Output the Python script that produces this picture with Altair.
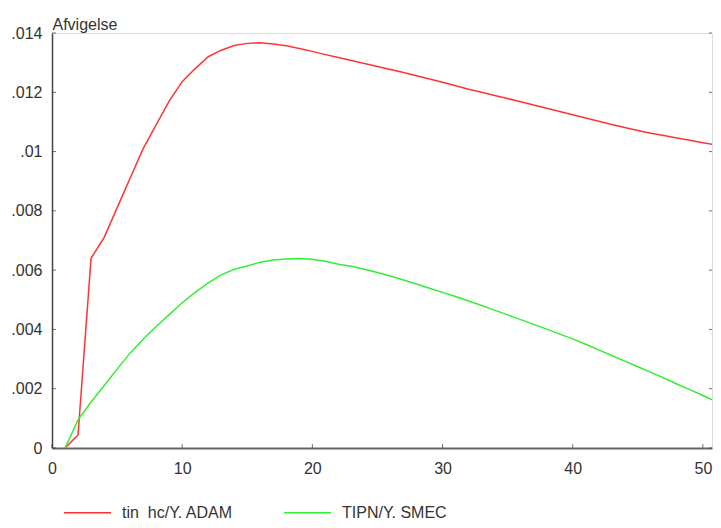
import altair as alt
import pandas as pd

years = list(range(1, 52))
red_vals = [0.0, 0.00044, 0.0064, 0.0071, 0.0081, 0.0091, 0.0101, 0.0109, 0.0117, 0.01236,
            0.0128, 0.0132, 0.01342, 0.01358, 0.01365, 0.01367, 0.01363, 0.01357, 0.01348, 0.01338,
            0.01327, 0.01317, 0.01307, 0.01297, 0.01287, 0.01277, 0.01267, 0.01256, 0.01245, 0.01234,
            0.01222, 0.0121, 0.012, 0.01189, 0.01179, 0.01168, 0.01157, 0.01146, 0.01135, 0.01124,
            0.01113, 0.01102, 0.01091, 0.01081, 0.01071, 0.01062, 0.01054, 0.01046, 0.01038, 0.0103,
            0.01022]
green_vals = [0.0, 0.00095, 0.00155, 0.0021, 0.00266, 0.0032, 0.00367, 0.0041, 0.0045, 0.0049,
              0.00525, 0.00557, 0.00584, 0.00603, 0.00614, 0.00627, 0.00634, 0.00638, 0.00639, 0.00637,
              0.0063, 0.0062, 0.00613, 0.00603, 0.00592, 0.0058, 0.00567, 0.00553, 0.00539, 0.00525,
              0.00511, 0.00496, 0.00481, 0.00465, 0.00449, 0.00433, 0.00417, 0.00401, 0.00384, 0.00368,
              0.0035, 0.00331, 0.00312, 0.00293, 0.00274, 0.00255, 0.00236, 0.00216, 0.00197, 0.00177,
              0.00157]
series_names = ["tin_hc/Y. ADAM", "TIPN/Y. SMEC"]
series_colors = ["#ff3333", "#33ee33"]
x_ticks = [0, 10, 20, 30, 40, 50]
y_ticks = [0, 0.002, 0.004, 0.006, 0.008, 0.010, 0.012, 0.014]

df = pd.DataFrame({
    "year": years + years,
    "value": red_vals + green_vals,
    "series": [series_names[0]] * len(years) + [series_names[1]] * len(years),
})

W, H = 660, 415
FONT = "Liberation Sans"
TXT = "#333333"
x_scale = alt.Scale(domain=[0, 50.7], nice=False, zero=False)
y_scale = alt.Scale(domain=[0, 0.014], nice=False)

x_axis = alt.Axis(
    values=x_ticks, title=None, grid=False, ticks=False, domainColor="#666666",
    domainWidth=2, labelFontSize=16, labelColor=TXT, labelFont=FONT, labelPadding=12,
    labelFlush=False)
y_axis = alt.Axis(
    values=y_ticks, title="Afvigelse", grid=False, ticks=False, domainColor="#444444",
    domainWidth=1.5, labelFontSize=16, labelColor=TXT, labelFont=FONT, labelPadding=10,
    labelExpr="datum.value == 0 ? '0' : substring(format(datum.value, '.3~f'), 1)",
    titleAngle=0, titleX=0, titleY=-4, titleAlign="left", titleBaseline="alphabetic",
    titleFontSize=16, titleFontWeight="normal", titleColor=TXT, titleFont=FONT)

lines = alt.Chart(df).mark_line(strokeWidth=1.5, clip=True).encode(
    x=alt.X("year:Q", scale=x_scale, axis=x_axis),
    y=alt.Y("value:Q", scale=y_scale, axis=y_axis),
    color=alt.Color("series:N", sort=series_names,
                    scale=alt.Scale(domain=series_names, range=series_colors),
                    legend=alt.Legend(title=None, orient="none", legendX=11, legendY=455,
                                      direction="horizontal", columns=2, symbolType="stroke",
                                      symbolSize=2209, symbolStrokeWidth=1.5, labelFontSize=16,
                                      labelColor=TXT, labelFont=FONT, labelOffset=10,
                                      columnPadding=48, labelLimit=0)),
)

xt = alt.Chart(pd.DataFrame({"year": x_ticks})).mark_tick(color="#333333", thickness=1, size=4).encode(
    x=alt.X("year:Q", scale=x_scale, axis=x_axis), y=alt.value(H - 2))
ytl = alt.Chart(pd.DataFrame({"value": y_ticks})).mark_tick(color="#333333", thickness=1, size=4).encode(
    y=alt.Y("value:Q", scale=y_scale, axis=y_axis), x=alt.value(2))
ytr = alt.Chart(pd.DataFrame({"value": y_ticks})).mark_tick(color="#333333", thickness=1, size=3).encode(
    y=alt.Y("value:Q", scale=y_scale, axis=y_axis), x=alt.value(W - 1.5))

chart = alt.layer(lines, xt, ytl, ytr).properties(
    width=W, height=H, autosize=alt.AutoSizeParams(type="none"),
    padding={"left": 44, "top": 25, "right": 1, "bottom": 72},
).configure_view(stroke=None).configure(font=FONT)

chart.save("out.html", embed_options={"renderer": "svg", "actions": False})
